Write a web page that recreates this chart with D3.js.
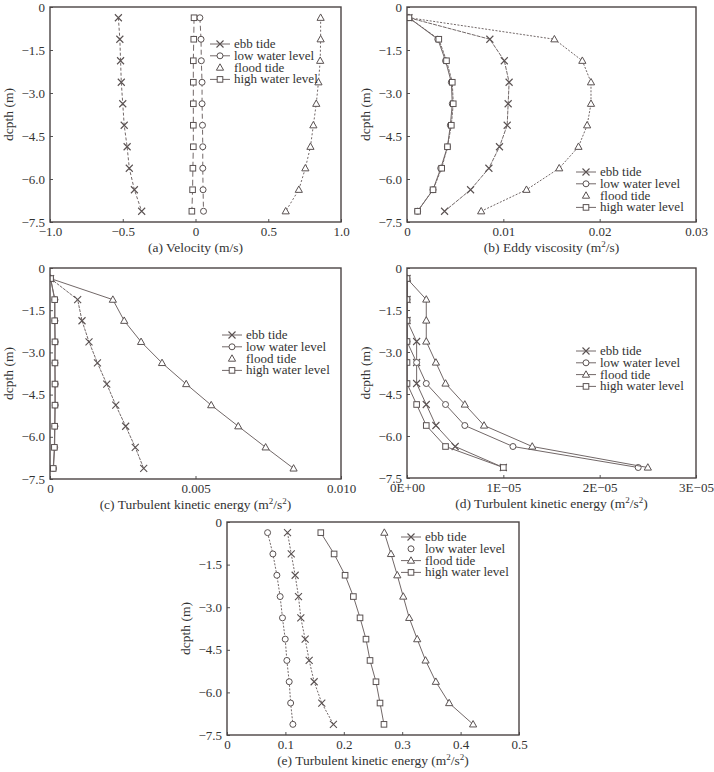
<!DOCTYPE html>
<html>
<head>
<meta charset="utf-8">
<script src="https://cdn.jsdelivr.net/npm/d3@7"></script>
<style>
  body { margin: 0; background: #fff; }
  svg text { font-family: "Liberation Serif", "DejaVu Serif", serif; fill: #333; }
</style>
</head>
<body>
<div id="chart"></div>
<script>
// depth of the ten layer centres (m)
var depth = [-0.375, -1.125, -1.875, -2.625, -3.375, -4.125, -4.875, -5.625, -6.375, -7.125];

// (a) velocity (m/s)
var velEbb   = [-0.53, -0.52, -0.515, -0.51, -0.50, -0.49, -0.47, -0.455, -0.42, -0.37];
var velLow   = [0.03, 0.038, 0.04, 0.045, 0.045, 0.048, 0.05, 0.05, 0.052, 0.055];
var velFlood = [0.86, 0.86, 0.857, 0.845, 0.83, 0.81, 0.79, 0.755, 0.71, 0.62];
var velHigh  = [-0.01, -0.012, -0.015, -0.015, -0.015, -0.015, -0.015, -0.018, -0.02, -0.025];

// (b) eddy viscosity (m2/s)
var eddyEbb   = [0.0002, 0.0086, 0.0101, 0.0106, 0.0105, 0.0104, 0.0096, 0.0085, 0.0066, 0.0039];
var eddyLow   = [0.0002, 0.0032, 0.0040, 0.0046, 0.0047, 0.0045, 0.0042, 0.0035, 0.0027, 0.0011];
var eddyFlood = [0.0002, 0.0153, 0.0182, 0.0191, 0.0191, 0.0187, 0.0178, 0.0158, 0.0124, 0.0077];
var eddyHigh  = [0.0002, 0.0033, 0.0041, 0.0047, 0.0048, 0.0046, 0.0042, 0.0036, 0.0027, 0.0011];

// (c) turbulent kinetic energy (m2/s2)
var tkeEbb   = [0.00002, 0.00095, 0.0011, 0.00134, 0.00163, 0.00195, 0.00226, 0.0026, 0.00293, 0.00322];
var tkeLow   = [0.00002, 0.00017, 0.00017, 0.00018, 0.00017, 0.00018, 0.00018, 0.00017, 0.00016, 0.00012];
var tkeFlood = [0.00002, 0.00216, 0.00255, 0.00313, 0.00385, 0.00468, 0.00554, 0.00647, 0.00741, 0.00837];
var tkeHigh  = [0.00002, 0.00016, 0.00016, 0.00017, 0.00017, 0.00017, 0.00017, 0.00016, 0.00015, 0.00011];

// (d) turbulent kinetic energy (m2/s2)
var tkdEbb   = [0, 0, 0, 1e-6, 1e-6, 1e-6, 2e-6, 3e-6, 5e-6, 1.0e-5];
var tkdLow   = [0, 0, 0, 0, 1e-6, 2e-6, 4e-6, 6e-6, 1.1e-5, 2.4e-5];
var tkdFlood = [0, 2e-6, 2e-6, 2e-6, 3e-6, 4e-6, 6e-6, 8e-6, 1.3e-5, 2.5e-5];
var tkdHigh  = [0, 0, 0, 0, 0, 0, 1e-6, 2e-6, 4e-6, 1.0e-5];

// (e) turbulent kinetic energy (m2/s2)
var tkgEbb   = [0.1036, 0.110, 0.1167, 0.1224, 0.1264, 0.1338, 0.1407, 0.1492, 0.1623, 0.1822];
var tkgLow   = [0.0695, 0.0786, 0.0854, 0.091, 0.095, 0.0997, 0.1025, 0.1065, 0.109, 0.1128];
var tkgFlood = [0.2694, 0.2808, 0.2916, 0.3018, 0.312, 0.3257, 0.340, 0.3576, 0.3804, 0.4214];
var tkgHigh  = [0.1606, 0.1834, 0.2022, 0.2164, 0.2278, 0.238, 0.2449, 0.2551, 0.262, 0.2688];

var seriesNames = ["ebb tide", "low water level", "flood tide", "high water level"];
var seriesMarks = ["cross", "circle", "triangle", "square"];

var yTicks = [0, -1.5, -3.0, -4.5, -6.0, -7.5];
var yTickLabels = ["0", "\u22121.5", "\u22123.0", "\u22124.5", "\u22126.0", "\u22127.5"];

var W = 714, H = 772;
var svg = d3.select("#chart").append("svg")
    .attr("width", W).attr("height", H);

var lineCol = "#726868";
var markCol = "#5a5252";

var draw_marker = function(g, kind, x, y) {
    if (kind == "cross") {
        g.append("path").attr("d", "M" + (x-3.5) + "," + (y-3.5) + "L" + (x+3.5) + "," + (y+3.5) +
            "M" + (x-3.5) + "," + (y+3.5) + "L" + (x+3.5) + "," + (y-3.5))
            .attr("stroke", markCol).attr("stroke-width", 1.1).attr("fill", "none");
    } else if (kind == "circle") {
        g.append("circle").attr("cx", x).attr("cy", y).attr("r", 3)
            .attr("stroke", markCol).attr("stroke-width", 1).attr("fill", "#fff");
    } else if (kind == "triangle") {
        g.append("path").attr("d", "M" + x + "," + (y-3.8) + "L" + (x+3.6) + "," + (y+2.6) + "L" + (x-3.6) + "," + (y+2.6) + "Z")
            .attr("stroke", markCol).attr("stroke-width", 1).attr("fill", "#fff");
    } else {
        g.append("rect").attr("x", x-2.8).attr("y", y-2.8).attr("width", 5.6).attr("height", 5.6)
            .attr("stroke", markCol).attr("stroke-width", 1).attr("fill", "#fff");
    }
}

var draw_panel = function(p) {
    var g = svg.append("g");
    var x = d3.scaleLinear().domain(p.xDomain).range([p.left, p.right]);
    var y = d3.scaleLinear().domain([0, -7.5]).range([p.top, p.bottom]);

    var clipId = "clip" + p.id;
    svg.append("clipPath").attr("id", clipId).append("rect")
        .attr("x", p.left).attr("y", p.top)
        .attr("width", p.right - p.left).attr("height", p.bottom - p.top);

    // axes with inward ticks
    var xAxis = d3.axisBottom(x).tickValues(p.xTicks).tickSize(-3).tickPadding(5)
        .tickFormat(function(d, i) { return p.xTickLabels[i]; });
    var yAxis = d3.axisLeft(y).tickValues(yTicks).tickSize(-3).tickPadding(5)
        .tickFormat(function(d, i) { return yTickLabels[i]; });

    var gx = g.append("g").attr("transform", "translate(0," + p.bottom + ")").call(xAxis);
    var gy = g.append("g").attr("transform", "translate(" + p.left + ",0)").call(yAxis);
    [gx, gy].forEach(function(a) {
        a.select(".domain").remove();
        a.selectAll("line").attr("stroke", "#555");
        a.selectAll("text").attr("font-size", 13).attr("fill", "#333")
            .attr("font-family", "Liberation Serif");
    });

    // series
    var plot = g.append("g").attr("clip-path", "url(#" + clipId + ")");
    var line = d3.line().x(function(d) { return x(d[0]); }).y(function(d) { return y(d[1]); });
    p.series.forEach(function(vals, si) {
        var pts = vals.map(function(v, i) { return [v, depth[i]]; });
        plot.append("path").datum(pts).attr("d", line)
            .attr("fill", "none").attr("stroke", lineCol).attr("stroke-width", 1)
            .attr("stroke-dasharray", p.dash[si]);
        pts.forEach(function(d) {
            draw_marker(plot, seriesMarks[si], x(d[0]), y(d[1]));
        });
    });

    // frame
    g.append("rect").attr("x", p.left).attr("y", p.top)
        .attr("width", p.right - p.left).attr("height", p.bottom - p.top)
        .attr("fill", "none").attr("stroke", "#4a4444").attr("stroke-width", 1.4);

    // legend
    seriesNames.forEach(function(name, i) {
        var ly = p.legY + i * 11.8;
        var lx = p.legX;
        if (p.legLine[i]) {
            g.append("line").attr("x1", lx).attr("x2", lx + 20).attr("y1", ly).attr("y2", ly)
                .attr("stroke", lineCol).attr("stroke-width", 1);
        }
        draw_marker(g, seriesMarks[i], lx + 10, ly);
        g.append("text").attr("x", lx + 24).attr("y", ly + 4)
            .attr("font-size", 13).text(name);
    });

    // y label
    g.append("text")
        .attr("transform", "translate(" + (p.left - 37) + "," + ((p.top + p.bottom) / 2) + ") rotate(-90)")
        .attr("text-anchor", "middle").attr("font-size", 13.5).text("dcpth (m)");

    // x title
    var t = g.append("text").attr("x", (p.left + p.right) / 2).attr("y", p.bottom + 29.5)
        .attr("text-anchor", "middle").attr("font-size", 13.5);
    t.append("tspan").text(p.title);
    if (p.sup) {
        t.append("tspan").attr("font-size", 9).attr("dy", -5).text("2");
        t.append("tspan").attr("dy", 5).text("/s");
        if (p.sup == 2) {
            t.append("tspan").attr("font-size", 9).attr("dy", -5).text("2");
            t.append("tspan").attr("dy", 5).text(")");
        } else {
            t.append("tspan").text(")");
        }
    }
}

draw_panel({
    id: "a", left: 50, right: 341, top: 7, bottom: 222,
    xDomain: [-1, 1], xTicks: [-1, -0.5, 0, 0.5, 1],
    xTickLabels: ["\u22121.0", "\u22120.5", "0", "0.5", "1.0"],
    series: [velEbb, velLow, velFlood, velHigh],
    dash: ["3,2", "5,3", "2,2", "6,3"],
    legX: 210, legY: 44, legLine: [true, true, false, true],
    title: "(a) Velocity (m/s)", sup: 0
});

draw_panel({
    id: "b", left: 407, right: 696, top: 7, bottom: 222,
    xDomain: [0, 0.03], xTicks: [0, 0.01, 0.02, 0.03],
    xTickLabels: ["0", "0.01", "0.02", "0.03"],
    series: [eddyEbb, eddyLow, eddyFlood, eddyHigh],
    dash: ["4,1", "none", "2,1.5", "3,1"],
    legX: 576, legY: 172, legLine: [true, true, false, true],
    title: "(b) Eddy viscosity (m", sup: 1
});

draw_panel({
    id: "c", left: 50, right: 341, top: 268, bottom: 479,
    xDomain: [0, 0.010], xTicks: [0, 0.005, 0.010],
    xTickLabels: ["0", "0.005", "0.010"],
    series: [tkeEbb, tkeLow, tkeFlood, tkeHigh],
    dash: ["3,1", "none", "none", "none"],
    legX: 222, legY: 335, legLine: [true, true, false, true],
    title: "(c) Turbulent kinetic energy (m", sup: 2
});

draw_panel({
    id: "d", left: 407, right: 696, top: 268, bottom: 478,
    xDomain: [0, 3e-5], xTicks: [0, 1e-5, 2e-5, 3e-5],
    xTickLabels: ["0E+00", "1E\u221205", "2E\u221205", "3E\u221205"],
    series: [tkdEbb, tkdLow, tkdFlood, tkdHigh],
    dash: ["none", "none", "none", "none"],
    legX: 576, legY: 351, legLine: [true, true, true, true],
    title: "(d) Turbulent kinetic energy (m", sup: 2
});

draw_panel({
    id: "e", left: 227, right: 519, top: 522, bottom: 735,
    xDomain: [0, 0.5], xTicks: [0, 0.1, 0.2, 0.3, 0.4, 0.5],
    xTickLabels: ["0", "0.1", "0.2", "0.3", "0.4", "0.5"],
    series: [tkgEbb, tkgLow, tkgFlood, tkgHigh],
    dash: ["2,1.5", "2,1.5", "none", "none"],
    legX: 401, legY: 537, legLine: [true, false, true, true],
    title: "(e) Turbulent kinetic energy (m", sup: 2
});
</script>
</body>
</html>
